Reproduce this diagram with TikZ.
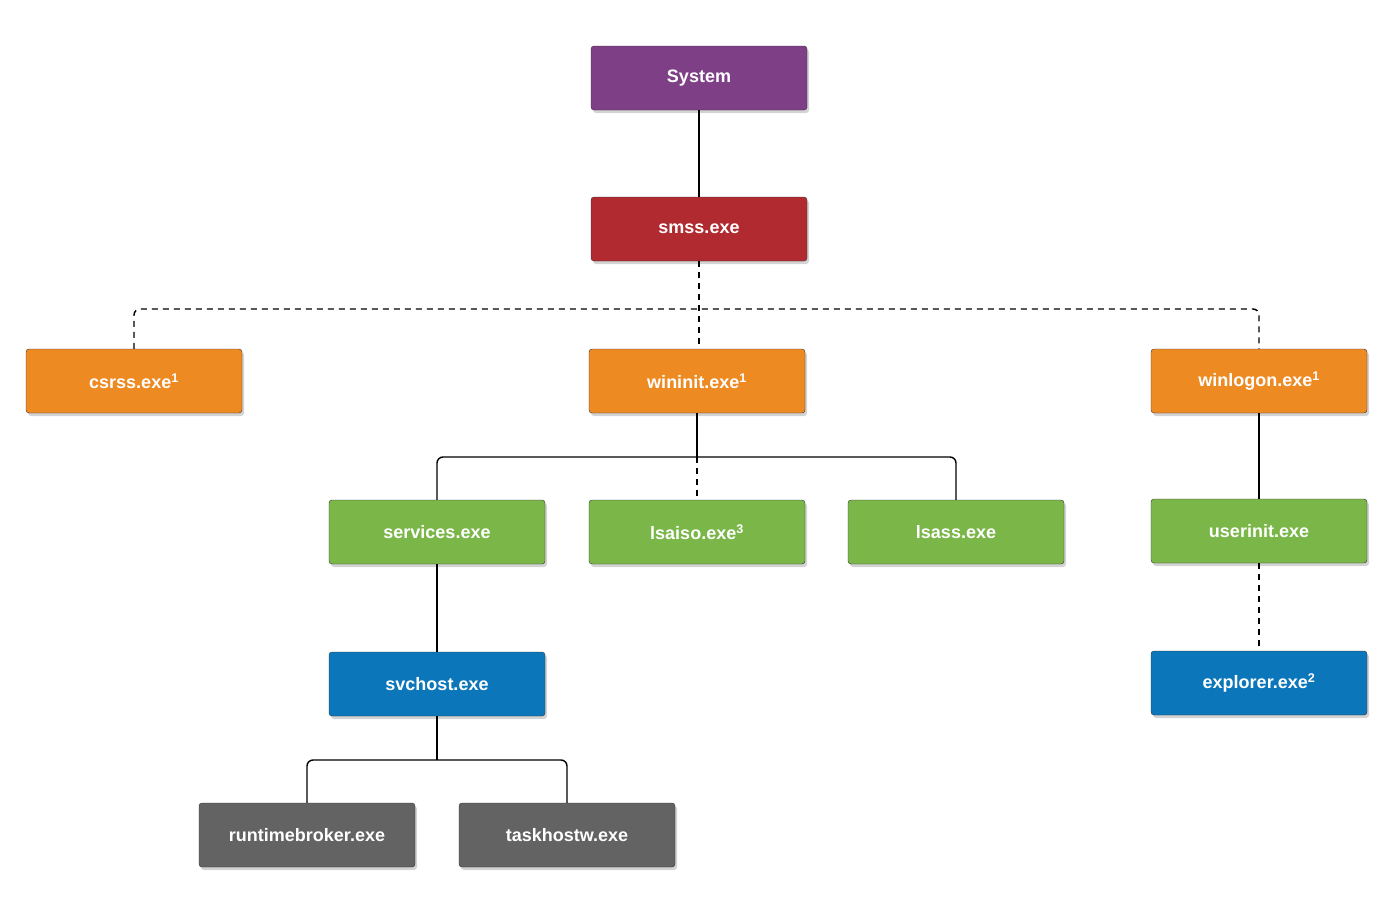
\documentclass[tikz,border=0pt]{standalone}
\usepackage{fontspec}
\setmainfont{Liberation Sans}
\usetikzlibrary{shadows}
\definecolor{sysc}{HTML}{7F3F87}
\definecolor{smssc}{HTML}{B02A30}
\definecolor{orc}{HTML}{EE8A22}
\definecolor{grc}{HTML}{7AB648}
\definecolor{blc}{HTML}{0B77BA}
\definecolor{gyc}{HTML}{636363}

\begin{document}
\begin{tikzpicture}[x=1pt,y=-1pt,
  proc/.style={draw=black!80,rounded corners=3pt,minimum width=216pt,minimum height=64pt,
    text=white,font=\fontsize{18}{20}\selectfont\bfseries,
    drop shadow={shadow xshift=2pt,shadow yshift=-3pt,opacity=0.35}},
  link/.style={line width=1.4pt,rounded corners=6pt},
  dlink/.style={link,dash pattern=on 6pt off 5pt}]
  \useasboundingbox (0,0) rectangle (1400,918);
  \node[proc,fill=sysc]  (System)   at (699,78)  {System};
  \node[proc,fill=smssc] (smss)     at (699,229) {smss.exe};
  \node[proc,fill=orc]   (csrss)    at (134,381) {csrss.exe\textsuperscript{1}};
  \node[proc,fill=orc]   (wininit)  at (697,381) {wininit.exe\textsuperscript{1}};
  \node[proc,fill=orc]   (winlogon) at (1259,381) {winlogon.exe\textsuperscript{1}};
  \node[proc,fill=grc]   (services) at (437,532) {services.exe};
  \node[proc,fill=grc]   (lsaiso)   at (697,532) {lsaiso.exe\textsuperscript{3}};
  \node[proc,fill=grc]   (lsass)    at (956,532) {lsass.exe};
  \node[proc,fill=grc]   (userinit) at (1259,531) {userinit.exe};
  \node[proc,fill=blc]   (svchost)  at (437,684) {svchost.exe};
  \node[proc,fill=blc]   (explorer) at (1259,683) {explorer.exe\textsuperscript{2}};
  \node[proc,fill=gyc]   (runtime)  at (307,835) {runtimebroker.exe};
  \node[proc,fill=gyc]   (taskhost) at (567,835) {taskhostw.exe};

  \coordinate (bus) at (699,309);
  \coordinate (wbus) at (697,457);
  \coordinate (sbus) at (437,760);

  \draw[link] (System) -- (smss);
  \draw[dlink] (smss.south) -- (bus) -- (wininit.north -| bus);
  \draw[dlink] (csrss.north) |- (bus) -| (winlogon.north);
  \draw[link] (wininit.south) -- (wbus);
  \draw[link] (services.north) |- (wbus) -| (lsass.north);
  \draw[dlink] (wbus) -- (lsaiso.north);
  \draw[link] (winlogon) -- (userinit);
  \draw[dlink] (userinit) -- (explorer);
  \draw[link] (services) -- (svchost);
  \draw[link] (svchost.south) -- (sbus);
  \draw[link] (runtime.north) |- (sbus) -| (taskhost.north);
\end{tikzpicture}
\end{document}
